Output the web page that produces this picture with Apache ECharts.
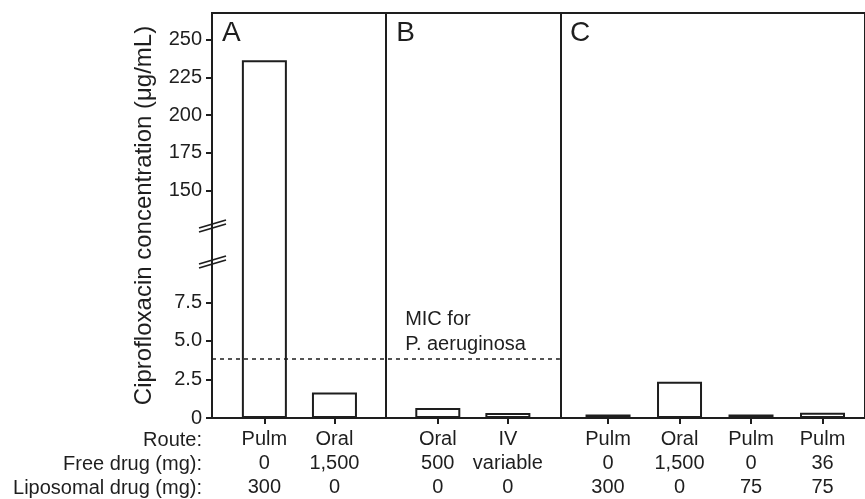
<!DOCTYPE html>
<html>
<head>
<meta charset="utf-8">
<script src="https://cdn.jsdelivr.net/npm/echarts@6/dist/echarts.min.js"></script>
<style>
  html, body { margin: 0; padding: 0; background: #fff; }
  #main { width: 865px; height: 499px; }
</style>
</head>
<body>
<div id="main"></div>
<script>
// data
var panels = ['A', 'B', 'C'];
var panelOf = ['A', 'A', 'B', 'B', 'C', 'C', 'C', 'C'];
var routes = ['Pulm', 'Oral', 'Oral', 'IV', 'Pulm', 'Oral', 'Pulm', 'Pulm'];
var freeDrug = ['0', '1,500', '500', 'variable', '0', '1,500', '0', '36'];
var liposomalDrug = ['300', '0', '0', '0', '300', '0', '75', '75'];
var concentration = [236.5, 1.65, 0.65, 0.32, 0.22, 2.35, 0.22, 0.34];
var shaded = [false, false, false, false, true, false, true, false];
var micValue = 3.85;
var yTicksLow = [0, 2.5, 5, 7.5];
var yTicksHigh = [150, 175, 200, 225, 250];
var rowTitles = ['Route:', 'Free drug (mg):', 'Liposomal drug (mg):'];

var ink = '#1e1e1e';
var font = '"Liberation Sans", Arial, Helvetica, sans-serif';

// broken y axis: lower part in real units, upper part squeezed
var UP_BASE = 14.76, UP_RATIO = 0.0975, AXIS_MAX = 26.25;
function toAxis(v) { return v <= 50 ? v : UP_BASE + (v - 150) * UP_RATIO; }
function fromAxis(t) { return t < 12 ? t : 150 + (t - UP_BASE) / UP_RATIO; }

// panel layout along x (in bar slots)
var panelLayout = {
  A: { start: 0, pad: 0.74, step: 0.99 },
  B: { start: 2.46, pad: 0.73, step: 0.99 },
  C: { start: 4.915, pad: 0.68, step: 1.01 }
};
var X_MAX = 655 / 71;

var xPos = [];
var counter = {};
panelOf.forEach(function (p) {
  var k = counter[p] || 0;
  counter[p] = k + 1;
  xPos.push(panelLayout[p].start + panelLayout[p].pad + k * panelLayout[p].step);
});

var yTickValues = yTicksLow.concat(yTicksHigh).map(toAxis);

var barData = concentration.map(function (v, i) {
  return {
    value: [xPos[i], toAxis(v)],
    itemStyle: { color: shaded[i] ? '#575757' : '#fff' }
  };
});

var myChart = echarts.init(document.getElementById('main'));

var option = {
  backgroundColor: '#fff',
  animation: false,
  textStyle: { fontFamily: font, color: ink },
  grid: {
    left: 212, top: 13, width: 655, height: 406,
    show: true, borderColor: ink, borderWidth: 2, backgroundColor: 'transparent'
  },
  xAxis: {
    type: 'value',
    min: 0,
    max: X_MAX,
    axisLine: { show: false },
    splitLine: { show: false },
    axisTick: { show: true, customValues: xPos, length: 6, lineStyle: { color: ink, width: 2 } },
    axisLabel: {
      customValues: xPos,
      margin: 9,
      fontSize: 20,
      lineHeight: 24,
      color: ink,
      fontFamily: font,
      formatter: function (val) {
        var i = xPos.findIndex(function (p) { return Math.abs(p - val) < 1e-6; });
        if (i < 0) return '';
        return routes[i] + '\n' + freeDrug[i] + '\n' + liposomalDrug[i];
      }
    }
  },
  yAxis: {
    type: 'value',
    min: 0,
    max: AXIS_MAX,
    name: 'Ciprofloxacin concentration (\u03bcg/mL)',
    nameLocation: 'middle',
    nameGap: 56,
    nameTextStyle: { fontSize: 24, color: ink, fontFamily: font },
    axisLine: { show: false },
    splitLine: { show: false },
    axisTick: { show: true, customValues: yTickValues, length: 6, lineStyle: { color: ink, width: 2 } },
    axisLabel: {
      customValues: yTickValues,
      margin: 10,
      fontSize: 20,
      color: ink,
      fontFamily: font,
      formatter: function (t) {
        var v = fromAxis(t);
        if (v < 12) return v === 0 ? '0' : v.toFixed(1);
        return String(Math.round(v));
      }
    }
  },
  series: [
    {
      type: 'line',
      data: [],
      z: 1,
      silent: true,
      markLine: {
        silent: true,
        symbol: ['none', 'none'],
        label: { show: false },
        data: [
          [
            { coord: [0, micValue], lineStyle: { type: [4, 4], width: 1.6, color: ink } },
            { coord: [panelLayout.C.start, micValue] }
          ],
          { xAxis: panelLayout.B.start, lineStyle: { type: 'solid', width: 2, color: ink } },
          { xAxis: panelLayout.C.start, lineStyle: { type: 'solid', width: 2, color: ink } }
        ]
      }
    },
    {
      type: 'bar',
      data: barData,
      barWidth: 45,
      z: 3,
      itemStyle: { borderColor: ink, borderWidth: 2 }
    }
  ],
  graphic: []
};

myChart.setOption(option);

// annotations
var graphics = [];
panels.forEach(function (p) {
  var px = myChart.convertToPixel({ gridIndex: 0 }, [panelLayout[p].start, 0])[0];
  graphics.push({
    type: 'text', left: px + 10, top: 19,
    style: { text: p, fontSize: 28, fill: ink, fontFamily: font }
  });
});
var micPx = myChart.convertToPixel({ gridIndex: 0 }, [panelLayout.B.start, micValue]);
graphics.push({
  type: 'text', left: micPx[0] + 19, top: micPx[1] - 52,
  style: { text: 'MIC for\nP. aeruginosa', fontSize: 20, lineHeight: 25, fill: ink, fontFamily: font }
});
rowTitles.forEach(function (t, i) {
  graphics.push({
    type: 'text', x: 202, y: 440 + i * 24,
    style: { text: t, fontSize: 20, fill: ink, fontFamily: font, align: 'right', verticalAlign: 'middle' }
  });
});
// axis break marks
[226, 262].forEach(function (cy) {
  [-2, 2].forEach(function (d) {
    graphics.push({
      type: 'line', z: 10,
      shape: { x1: 199, y1: cy + d + 4, x2: 226, y2: cy + d - 4 },
      style: { stroke: ink, lineWidth: 1.8 }
    });
  });
});
myChart.setOption({ graphic: graphics });
</script>
</body>
</html>
